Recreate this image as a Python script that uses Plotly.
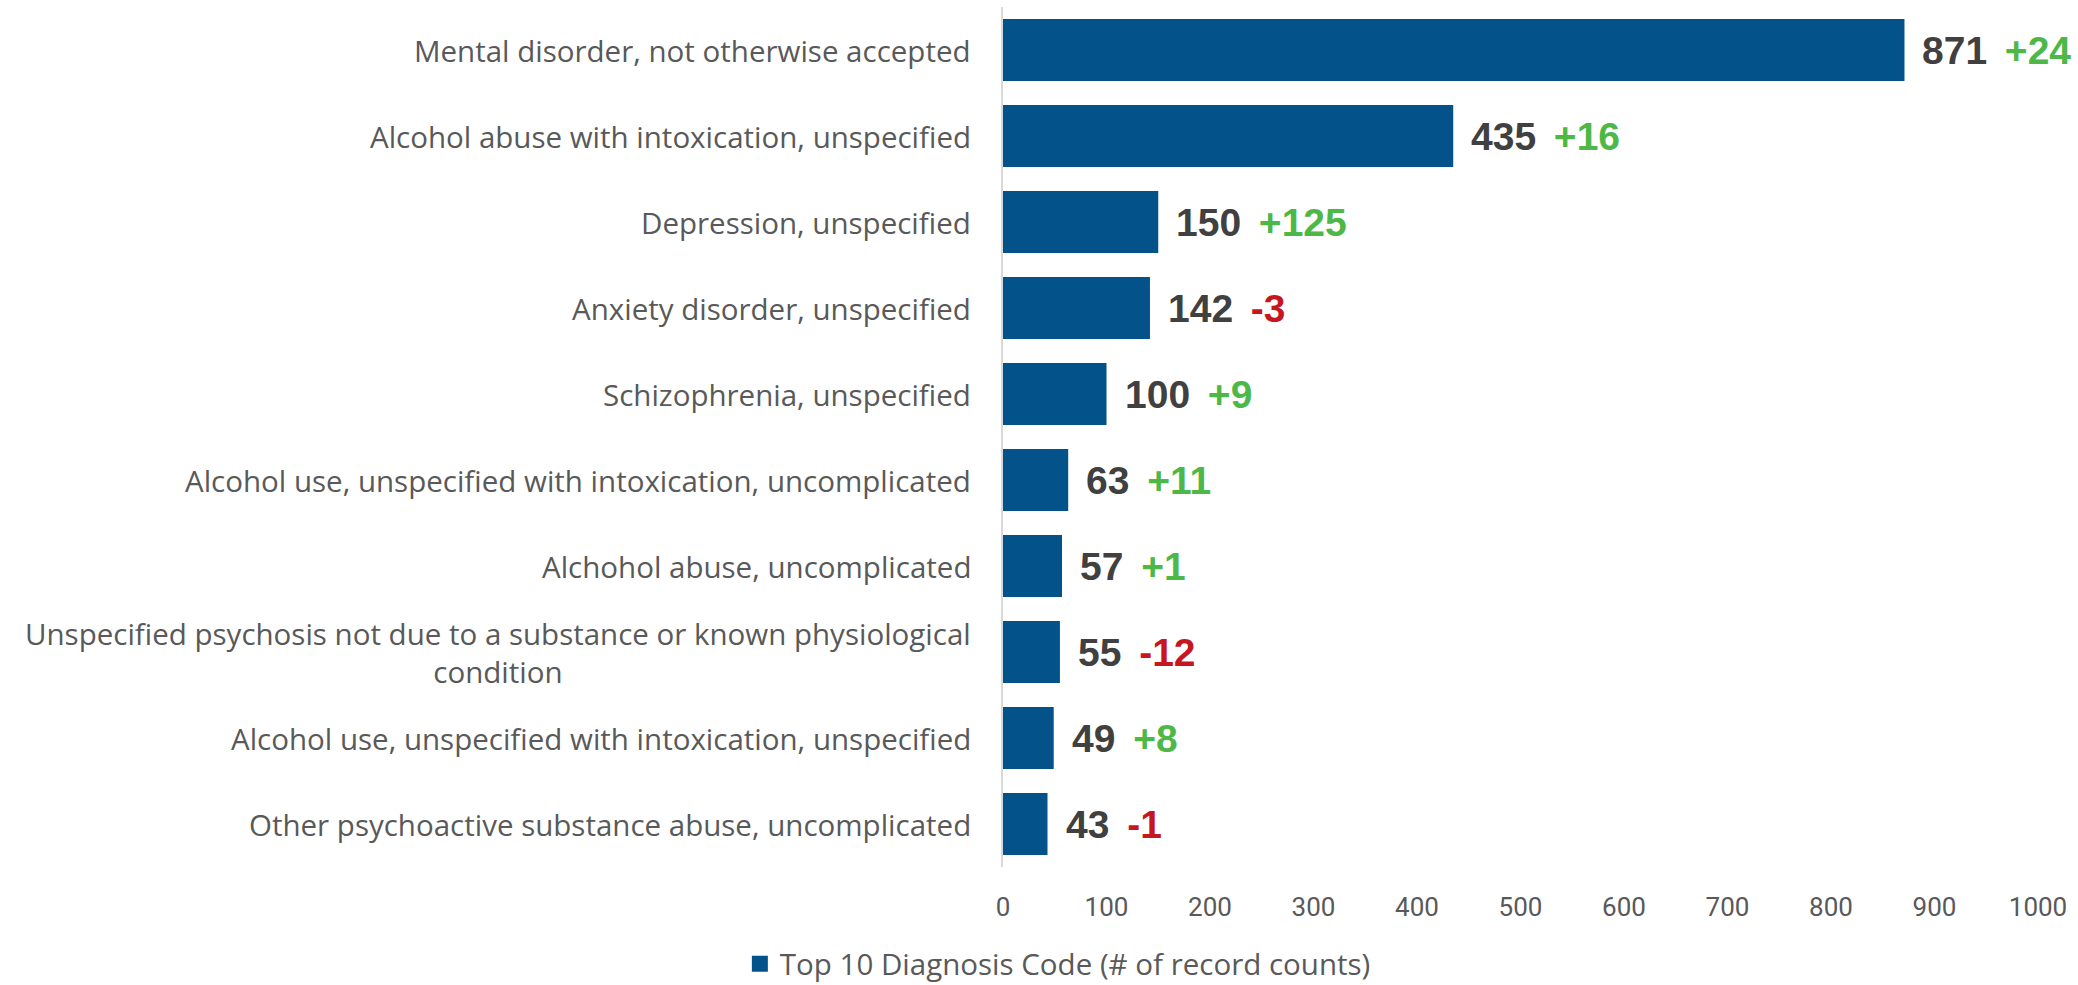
import plotly.graph_objects as go

# Top 10 diagnosis codes by record count, with change vs. previous period
categories = [
    "Mental disorder, not otherwise accepted",
    "Alcohol abuse with intoxication, unspecified",
    "Depression, unspecified",
    "Anxiety disorder, unspecified",
    "Schizophrenia, unspecified",
    "Alcohol use, unspecified with intoxication, uncomplicated",
    "Alchohol abuse, uncomplicated",
    "Unspecified psychosis not due to a substance or known physiological<br>condition",
    "Alcohol use, unspecified with intoxication, unspecified",
    "Other psychoactive substance abuse, uncomplicated",
]
counts = [871, 435, 150, 142, 100, 63, 57, 55, 49, 43]
changes = [24, 16, 125, -3, 9, 11, 1, -12, 8, -1]
x_ticks = [0, 100, 200, 300, 400, 500, 600, 700, 800, 900, 1000]
series_name = "Top 10 Diagnosis Code (# of record counts)"

BAR = "#03538A"
GREEN = "#4DB848"
RED = "#C8161E"
LABEL_GRAY = "#595959"
VALUE_GRAY = "#404040"
CAT_FONT = "Open Sans"

fig = go.Figure()
fig.add_trace(go.Bar(
    x=counts,
    y=categories,
    orientation="h",
    marker=dict(color=BAR, line=dict(width=0)),
    name=series_name,
    showlegend=False,
    hoverinfo="x+y",
))
# legend entry with a larger square swatch
fig.add_trace(go.Scatter(
    x=[None], y=[None],
    mode="markers",
    marker=dict(symbol="square", size=16, color=BAR),
    name=series_name,
    showlegend=True,
    hoverinfo="skip",
))

annotations = []
# category labels (centered multi-line, right-anchored beside the axis)
for cat in categories:
    annotations.append(dict(
        x=0, xref="paper", xanchor="right", xshift=-30,
        y=cat, yref="y", yanchor="middle",
        text=cat, showarrow=False, align="center",
        font=dict(family=CAT_FONT, size=29.5, color=LABEL_GRAY),
    ))

# value + change labels at the end of each bar
for cat, val, chg in zip(categories, counts, changes):
    col = GREEN if chg > 0 else RED
    sign = "+" if chg > 0 else ""
    txt = (f"<b>{val}</b><span style='font-size:32px'>&nbsp;&nbsp;</span>"
           f"<span style='color:{col}'><b>{sign}{chg}</b></span>")
    annotations.append(dict(
        x=val, xref="x", xanchor="left", xshift=16,
        y=cat, yref="y", yanchor="middle",
        text=txt, showarrow=False, align="left",
        font=dict(family="Liberation Sans", size=39, color=VALUE_GRAY),
    ))

fig.update_layout(
    width=2078,
    height=985,
    margin=dict(l=1003, r=40, t=7, b=118, autoexpand=False),
    paper_bgcolor="white",
    plot_bgcolor="white",
    bargap=0.28,
    showlegend=True,
    legend=dict(
        orientation="h",
        x=0.053, xanchor="center",
        y=-0.113, yanchor="middle",
        font=dict(family=CAT_FONT, size=29.5, color=LABEL_GRAY),
        itemsizing="trace",
        itemwidth=30,
    ),
    xaxis=dict(
        range=[0, 1000],
        tickvals=x_ticks,
        ticktext=[str(t) for t in x_ticks],
        showgrid=False,
        zeroline=False,
        showline=False,
        ticks="",
        ticklabelstandoff=22,
        tickfont=dict(family="Roboto", size=26, color=LABEL_GRAY),
        fixedrange=True,
    ),
    yaxis=dict(
        categoryorder="array",
        categoryarray=categories[::-1],
        showticklabels=False,
        showgrid=False,
        zeroline=False,
        showline=True,
        linecolor="#D9D9D9",
        linewidth=2,
        ticks="",
        fixedrange=True,
    ),
    annotations=annotations,
)

fig.write_html("out.html")
